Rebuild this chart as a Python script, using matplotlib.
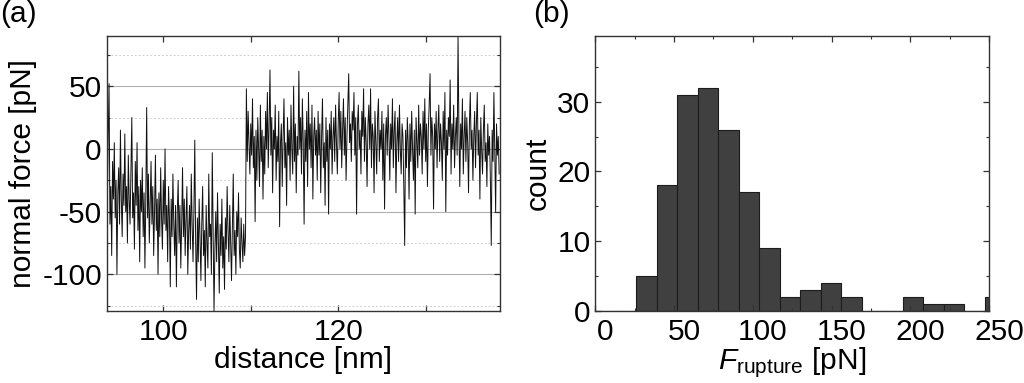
import numpy as np
import matplotlib
matplotlib.use("Agg")
import matplotlib.pyplot as plt
from matplotlib.ticker import MultipleLocator
import matplotlib.transforms as mtransforms

plt.rcParams['font.family'] = ['Liberation Sans', 'DejaVu Sans']
plt.rcParams['mathtext.fontset'] = 'custom'
plt.rcParams['mathtext.rm'] = 'Liberation Sans'
plt.rcParams['mathtext.it'] = 'Liberation Sans:italic'
plt.rcParams['axes.unicode_minus'] = False

# ---------------- data (a): force trace ----------------
distance_start = 93.5   # nm
distance_step = 0.1     # nm per sample
force_trace = [
    # before rupture
    -20, -45, 10, 52, -60, -30, -85, -10, -40, 5, -55, -25, -100, -35, -15, -60, 15, -40, -70, -20,
    -45, 12, -50, -30, -75, -5, -40, -60, -20, 25, -55, -35, -80, -10, -45, 5, -65, -30, -90, -25,
    -50, -15, -70, -35, -95, -40, 33, -55, -20, -75, -45, -10, -60, -30, -85, -50, -5, -65, -40, -100,
    -35, -70, -15, -55, -80, -25, -60, 0, -65, -45, -90, -30, -55, -110, -40, -70, -20, -60, -85, -45,
    -110, -50, -25, -75, -45, -95, -60, -15, -70, -40, -85, -55, -30, -100, -65, -45, -80, -20, -60, -90,
    -50, 7, -75, -120, -55, -90, -40, -70, -105, -60, -30, -85, -65, -110, -45, -75, -95, -20, -70, -60,
    -100, -3, -65, -129, -80, -50, -90, -35, -75, -115, -60, -85, -40, -95, -70, -112, -55, -80, -30, -65,
    -90, -45, -75, -105, -60, -20, -85, -65, -100, -50, -70, -35, -80, -95, -55, -75, -90, -60, -85, -70,
    # after rupture
    48, -10, 30, 5, -20, 20, -5, 40, -15, 10, -58, 15, -25, 25, 0, -30, 35, -10, 15, -40,
    10, -20, 30, 0, 45, -15, 20, 63, -5, 25, -35, 15, 0, 35, -25, 10, -10, 30, -62, 5,
    20, -30, 10, 40, -15, 5, -45, 25, -5, 15, -25, 35, 0, -20, 50, -10, 20, -35, 10, -5,
    62, 0, 25, -20, 40, 5, -60, 15, -10, 30, -30, 45, 0, 20, -15, 35, -40, 10, 25, -5,
    15, -25, 30, -5, 20, -35, 10, 40, -15, 5, -45, 25, -10, 15, -52, 20, 0, 30, -20, 10,
    25, -10, 35, 5, -20, 20, 45, 0, 30, -15, 15, 40, -5, 25, -25, 10, 35, 60, 5, 20,
    -10, 30, 15, 45, -5, 25, -52, 20, 35, 0, 15, -20, 30, 10, 48, -10, 25, 5, -30, 20,
    35, 0, 48, -15, 20, 10, -35, 30, 5, -20, 25, 40, -10, 15, 0, 30, -25, 20, -48, 10,
    25, -5, 35, 10, -25, 20, 0, 40, -15, 15, 30, -35, 5, 25, -10, 35, 0, -20, 20, 10,
    -30, -77, 15, -15, 25, 5, -40, 20, -10, 30, 0, -25, 15, -52, 25, 5, -15, 35, -5, 20,
    10, -20, 30, 0, 40, -10, 20, -30, 15, 35, 60, -5, 25, 10, -48, 20, 0, 30, -15, 15,
    35, -10, 20, 5, -25, 30, 0, 45, -50, 15, -5, 25, 10, 55, -20, 20, 0, 35, -15, 10,
    25, -5, 90, 15, -30, 20, 0, 40, -20, 10, 30, -10, 25, 5, -35, 20, 45, 0, 15, -25,
    10, 30, -15, 20, 45, -5, 15, -40, 25, 0, -20, 15, 35, -10, 5, -30, 20, -5, 10, -25,
    -77, 15, -10, 45, 0, -50, 20, -5, 10, -20,
]

# ---------------- data (b): rupture force histogram ----------------
bin_start = 0.0     # pN
bin_width = 13.0    # pN
counts = [0, 0, 5, 18, 31, 32, 26, 17, 9, 2, 3, 4, 2, 0, 0, 2, 1, 1, 0, 2]

x_ticks_a = [100, 120]
y_ticks_a = [-100, -50, 0, 50]
x_ticks_b = [0, 50, 100, 150, 200, 250]
y_ticks_b = [0, 10, 20, 30]

FS = 21.5

# ---------------- figure ----------------
fig = plt.figure(figsize=(10.24, 3.83), dpi=100)
axA = fig.add_axes([0.1042, 0.1888, 0.3841, 0.7180])
axB = fig.add_axes([0.5813, 0.1888, 0.3848, 0.7180])

spine_col = '#333333'
for ax in (axA, axB):
    for s in ax.spines.values():
        s.set_color(spine_col)
        s.set_linewidth(1.0)
    ax.tick_params(which='both', direction='in', top=True, right=True,
                   color=spine_col, labelsize=FS)
    ax.tick_params(which='major', length=4, width=0.9)
    ax.tick_params(which='minor', length=2.5, width=0.8)

# (a)
force = np.asarray(force_trace, dtype=float)
dist = distance_start + distance_step * np.arange(len(force))
axA.set_axisbelow(True)
axA.grid(which='major', axis='y', color='#b0b0b0', lw=0.8, ls='-')
axA.grid(which='minor', axis='y', color='#cfcfcf', lw=0.7, ls=(0, (2, 2)))
axA.plot(dist, force, color='#111111', lw=0.7)
axA.set_xlim(93.53, 138.5)
axA.set_ylim(-129, 90.3)
axA.set_xticks(x_ticks_a)
axA.xaxis.set_minor_locator(MultipleLocator(10))
axA.set_yticks(y_ticks_a)
axA.yaxis.set_minor_locator(MultipleLocator(25))
axA.tick_params(axis='x', which='minor', length=4, width=0.9)
axA.tick_params(axis='x', which='major', pad=5)
axA.set_xlabel('distance [nm]', fontsize=FS, labelpad=0)
axA.set_ylabel('normal force [pN]', fontsize=FS, labelpad=4)

# (b)
edges = bin_start + bin_width * np.arange(len(counts) + 1)
axB.bar(edges[:-1], counts, width=bin_width, align='edge',
        color='#404040', edgecolor='#1c1c1c', linewidth=0.8)
axB.set_xlim(0, 250)
axB.set_ylim(0, 39.5)
axB.set_xticks(x_ticks_b)
axB.xaxis.set_minor_locator(MultipleLocator(25))
axB.set_yticks(y_ticks_b)
axB.yaxis.set_minor_locator(MultipleLocator(5))
axB.tick_params(axis='x', which='major', pad=5)
offset = mtransforms.ScaledTranslation(10 / 100, 0, fig.dpi_scale_trans)
for lab in axB.get_xticklabels():
    lab.set_transform(lab.get_transform() + offset)
axB.set_xlabel(r'$F_{\mathrm{rupture}}$ [pN]', fontsize=FS, labelpad=0)
axB.set_ylabel('count', fontsize=FS, labelpad=4)

fig.text(0.0, 1.0, '(a)', fontsize=FS, ha='left', va='top')
fig.text(0.521, 1.0, '(b)', fontsize=FS, ha='left', va='top')

fig.savefig('out.png', dpi=100)
